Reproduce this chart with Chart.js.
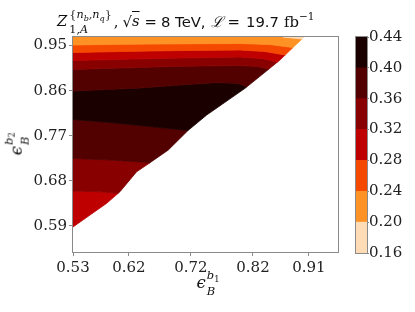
<!DOCTYPE html>
<html>
<head>
<meta charset="utf-8">
<script src="https://cdn.jsdelivr.net/npm/chart.js@4.4.1/dist/chart.umd.min.js"></script>
<style>
  html,body{margin:0;padding:0;background:#fff;}
  #wrap{position:relative;width:415px;height:312px;overflow:hidden;}
  canvas{position:absolute;top:0;}
  #main{left:0;}
  #cbar{left:340px;}
  .lbl{position:absolute;left:0;top:0;white-space:nowrap;color:#111;line-height:1;}
  .m{font-family:"DejaVu Serif",serif;font-style:italic;}
  .r{font-family:"DejaVu Serif",serif;font-style:normal;}
  .s{font-family:"DejaVu Sans",sans-serif;font-style:normal;}
  .mk{display:inline-block;width:0;height:0;}
  .stk{display:inline-block;font-family:"DejaVu Serif",serif;font-style:italic;text-align:left;}
  .lo{position:relative;top:0.28em;font-size:0.72em;font-style:normal;}
  .loi{position:relative;top:0.28em;font-size:0.72em;}
  #title{font-size:14.8px;}
  #title .stk{font-size:11.2px;line-height:14px;vertical-align:-6.6px;margin-left:2px;}
  #xlab,#ylab{font-size:16.5px;}
  #xlab .stk,#ylab .stk{font-size:11.5px;line-height:15px;vertical-align:-6.7px;margin-left:1px;}
</style>
</head>
<body>
<div id="wrap">
  <canvas id="main" width="415" height="312" style="width:415px;height:312px"></canvas>
  <canvas id="cbar" width="75" height="312" style="width:75px;height:312px"></canvas>
  <div id="title" class="lbl"><span class="mk" id="mkT"></span><span class="m">Z</span><span class="stk"><span class="r">{</span>n<span class="loi">b</span>,n<span class="loi">q</span><span class="r">}</span><br><span class="r">1,</span>A</span><span class="r" style="margin-left:2px">,</span><span class="r" style="margin-left:4px">√</span><span class="m" style="text-decoration:overline">s</span><span class="r" style="margin-left:5px">=</span><span class="s" style="margin-left:4px">8 TeV,</span><span class="m" style="margin-left:5px">ℒ</span><span class="r" style="margin-left:5px">=</span><span class="s" style="margin-left:6px">19.7</span><span class="r" style="margin-left:5px">fb</span><span class="r" style="font-size:10.5px;vertical-align:6.5px">−1</span></div>
  <div id="xlab" class="lbl"><span class="mk" id="mkX"></span><span class="m">ϵ</span><span class="stk">b<span class="lo">1</span><br>B</span></div>
  <div id="ylab" class="lbl"><span class="mk" id="mkY"></span><span class="m">ϵ</span><span class="stk">b<span class="lo">2</span><br>B</span></div>
</div>
<script>
// ---- data ----
const levels = [0.16, 0.20, 0.24, 0.28, 0.32, 0.36, 0.40, 0.44];
const bandColors = ['#ffdbb6', '#ff9224', '#f64900', '#bf0000', '#890000', '#520000', '#1b0000'];
const xTicks = [0.53, 0.62, 0.72, 0.82, 0.91];
const yTicks = [0.59, 0.68, 0.77, 0.86, 0.95];
const xRange = [0.53, 0.957];
const yRange = [0.538, 0.967];
const gridCorner = [0.53, 0.967];
// edge of the region where the quantity is defined (top-right to bottom-left)
const dataEdge = [[0.9022,0.967],[0.8636,0.9211],[0.8072,0.8646],[0.7454,0.8113],[0.7153,0.7804],
                  [0.6836,0.7415],[0.6541,0.7162],[0.6326,0.6982],[0.6057,0.6583],[0.5843,0.6352],[0.53,0.5879]];
// contour lines (left edge -> data edge)
const c020  = [[0.8684,0.967],[0.8877,0.9644],[0.8989,0.963]];
const c024  = [[0.53,0.951],[0.6057,0.9524],[0.7024,0.9534],[0.7991,0.954],[0.8474,0.952],[0.8845,0.946]];
const c028  = [[0.53,0.936],[0.6057,0.938],[0.7024,0.94],[0.7991,0.941],[0.8394,0.938],[0.8719,0.9311]];
const c032  = [[0.53,0.9201],[0.6057,0.9225],[0.7024,0.9251],[0.7991,0.9271],[0.8346,0.9241],[0.8595,0.9171]];
const c036  = [[0.53,0.9021],[0.6057,0.9051],[0.7024,0.9085],[0.7991,0.9101],[0.8281,0.9081],[0.8457,0.9031]];
const c040a = [[0.53,0.8592],[0.638,0.8652],[0.7185,0.8726],[0.7588,0.8758],[0.7959,0.8746],[0.8104,0.8678]];
const c040b = [[0.53,0.8024],[0.5896,0.7964],[0.6541,0.7884],[0.7153,0.7804]];
const c036b = [[0.53,0.7246],[0.5896,0.7216],[0.6541,0.7162]];
const c032b = [[0.53,0.6597],[0.5735,0.6581],[0.6028,0.6551]];

// ---- build filled bands from the contour lines ----
function band(upper, lower) {
  const yA = upper[upper.length - 1][1], yB = lower[lower.length - 1][1];
  const mid = dataEdge.filter(p => p[1] < yA && p[1] > yB);
  return [...upper, ...mid, ...lower.slice().reverse()];
}
const bandDefs = [
  {poly: band([c020[0], dataEdge[0]], c020), c: 0},
  {poly: band([gridCorner, ...c020], c024), c: 1},
  {poly: band(c024, c028), c: 2},
  {poly: band(c028, c032), c: 3},
  {poly: band(c032, c036), c: 4},
  {poly: band(c036, c040a), c: 5},
  {poly: band(c040a, c040b), c: 6},
  {poly: band(c040b, c036b), c: 5},
  {poly: band(c036b, c032b), c: 4},
  {poly: band(c032b, [dataEdge[dataEdge.length - 1]]), c: 3}
];
const datasets = bandDefs.map(b => {
  const pts = b.poly.map(p => ({x: p[0], y: p[1]}));
  pts.push({x: b.poly[0][0], y: b.poly[0][1]});
  return {
    data: pts, fill: 'shape', showLine: true, tension: 0,
    backgroundColor: bandColors[b.c], borderColor: bandColors[b.c], borderWidth: 0.8,
    pointRadius: 0, pointHoverRadius: 0
  };
});

const frameColor = '#8a8a8a';
const tickFont = {family: 'DejaVu Serif', size: 15};
const frame = {
  id: 'frame',
  afterDraw(chart) {
    const {ctx, chartArea: a} = chart;
    ctx.save();
    ctx.strokeStyle = frameColor;
    ctx.lineWidth = 1;
    ctx.strokeRect(Math.round(a.left) - 0.5, Math.round(a.top) - 0.5,
                   Math.round(a.right) - Math.round(a.left) + 1, Math.round(a.bottom) - Math.round(a.top) + 1);
    ctx.restore();
  }
};

new Chart(document.getElementById('main'), {
  type: 'line',
  data: {datasets},
  options: {
    responsive: false, animation: false, events: [],
    layout: {padding: {top: 37, right: 77, left: 0, bottom: 0}},
    plugins: {legend: {display: false}, tooltip: {enabled: false}},
    scales: {
      x: {
        type: 'linear', min: xRange[0], max: xRange[1],
        border: {display: false},
        grid: {drawOnChartArea: false, drawTicks: true, tickLength: 4, color: frameColor},
        ticks: {font: tickFont, color: '#222', padding: 3, autoSkip: false, maxRotation: 0,
                callback: v => Number(v).toFixed(2)},
        afterBuildTicks: s => { s.ticks = xTicks.map(v => ({value: v})); },
        afterFit: s => { s.height = 60; }
      },
      y: {
        type: 'linear', min: yRange[0], max: yRange[1],
        border: {display: false},
        grid: {drawOnChartArea: false, drawTicks: true, tickLength: 4, color: frameColor},
        ticks: {font: tickFont, color: '#222', padding: 2, autoSkip: false,
                callback: v => Number(v).toFixed(2)},
        afterBuildTicks: s => { s.ticks = yTicks.map(v => ({value: v})); },
        afterFit: s => { s.width = 73; }
      }
    }
  },
  plugins: [frame]
});

// ---- colour bar ----
new Chart(document.getElementById('cbar'), {
  type: 'bar',
  data: {
    labels: [''],
    datasets: bandColors.map((col, i) => ({
      data: [[levels[i], levels[i + 1]]], backgroundColor: col, borderWidth: 0,
      barPercentage: 1, categoryPercentage: 1, grouped: false
    }))
  },
  options: {
    responsive: false, animation: false, events: [],
    layout: {padding: {top: 37, left: 16, bottom: 59, right: 0}},
    plugins: {legend: {display: false}, tooltip: {enabled: false}},
    scales: {
      x: {display: false},
      y: {
        position: 'right', min: levels[0], max: levels[levels.length - 1],
        border: {display: false},
        grid: {drawOnChartArea: false, drawTicks: true, tickLength: 2, color: frameColor},
        ticks: {font: tickFont, color: '#222', padding: 0, autoSkip: false,
                callback: v => Number(v).toFixed(2)},
        afterBuildTicks: s => { s.ticks = levels.map(v => ({value: v})); },
        afterFit: s => { s.width = 48; }
      }
    }
  },
  plugins: [frame]
});

// ---- place the text labels so that their baselines land where the reference has them ----
function place(id, mkId, tx, ty, rotate) {
  const el = document.getElementById(id), mk = document.getElementById(mkId);
  const er = el.getBoundingClientRect(), mr = mk.getBoundingClientRect();
  const mx = mr.left - er.left, my = mr.top - er.top;
  el.style.transformOrigin = mx + 'px ' + my + 'px';
  el.style.left = (tx - mx) + 'px';
  el.style.top = (ty - my) + 'px';
  if (rotate) el.style.transform = 'rotate(-90deg)';
}
place('title', 'mkT', 57, 26.7, false);
place('xlab', 'mkX', 196.5, 288.5, false);
place('ylab', 'mkY', 22, 155, true);
</script>
</body>
</html>
